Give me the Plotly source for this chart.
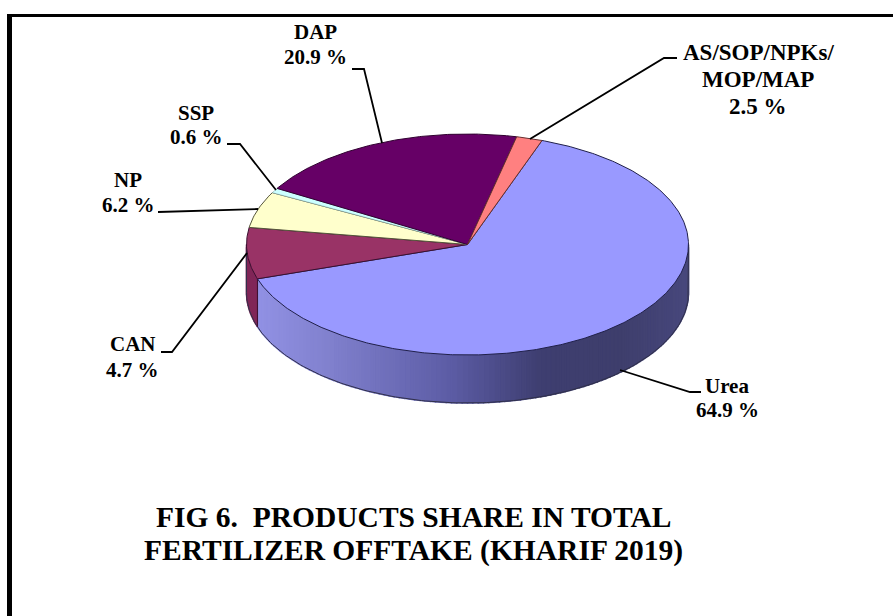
import math
import plotly.graph_objects as go

# Printed labels
categories = ["Urea", "CAN", "NP", "SSP", "DAP", "AS/SOP/NPKs/<br>MOP/MAP"]
printed_share = [64.9, 4.7, 6.2, 0.6, 20.9, 2.5]
# Share of the circle each slice actually occupies in the picture (%), clockwise from Urea
drawn_share = [64.5, 7.5, 5.3, 0.7, 20.1, 1.9]
slice_colors = ["#9999FF", "#993366", "#FFFFCC", "#CCFFFF", "#660066", "#FF8080"]
edge_colors = ["#20204a", "#3a1030", "#55553a", "#7a9a9a", "#300030", "#663030"]
edge_widths = [1, 1, 1, 0.5, 1, 1]
title_lines = ["FIG 6.\u00a0\u00a0PRODUCTS SHARE IN TOTAL", "FERTILIZER OFFTAKE (KHARIF 2019)"]

W, H = 893, 616
CX, CY, RX, RY, DEPTH = 467.5, 244.5, 221, 110.5, 48
START_DEG = 19.7

# Layout of the labels and their leader lines (page pixels)
label_pos = {
    "Urea": [(727, 386), (727, 410)],
    "CAN": [(133, 344), (132, 370)],
    "NP": [(128, 180), (128, 205)],
    "SSP": [(196, 113), (196, 137)],
    "DAP": [(315, 32), (315, 57)],
    "AS": [(758, 52), (758, 79), (758, 106)],
}
label_size = {"Urea": 21, "CAN": 21, "NP": 21, "SSP": 21, "DAP": 21, "AS": 23}
leaders = [
    [(701, 392), (690, 392), (620, 370)],
    [(161, 352), (172, 352), (247, 253)],
    [(158, 212), (258, 209)],
    [(227, 144), (240, 144), (276, 190)],
    [(352, 69), (364, 69), (382, 143)],
    [(677, 58), (664, 58), (530, 139)],
]
rim_stops = [(258, (145, 145, 228)), (330, (128, 128, 205)), (450, (92, 92, 165)),
             (540, (62, 62, 112)), (620, (62, 62, 108)), (689, (72, 72, 125))]


def pt(deg, dy=0.0):
    a = math.radians(deg)
    return CX + RX * math.sin(a), CY - RY * math.cos(a) + dy


def rim_color(x):
    if x <= rim_stops[0][0]:
        c = rim_stops[0][1]
    else:
        c = rim_stops[-1][1]
        for (x0, c0), (x1, c1) in zip(rim_stops, rim_stops[1:]):
            if x0 <= x <= x1:
                f = (x - x0) / (x1 - x0)
                c = tuple(a + (b - a) * f for a, b in zip(c0, c1))
                break
    return "rgb(%d,%d,%d)" % tuple(round(v) for v in c)


edges = [START_DEG]
for s in drawn_share:
    edges.append(edges[-1] + s * 3.6)

fig = go.Figure()


def add_poly(xs, ys, fill, line, width):
    fig.add_trace(go.Scatter(x=xs, y=ys, mode="lines", fill="toself", fillcolor=fill,
                             line=dict(color=line, width=width), hoverinfo="skip",
                             showlegend=False))


# Rim of the disc (only the near half, 90..270 degrees, is visible)
boundary = edges[1]
N = 130
for i in range(N):
    t0 = 90 + 180 * i / N
    t1 = 90 + 180 * (i + 1) / N
    tm = (t0 + t1) / 2
    if tm < boundary:
        col = rim_color(pt(tm)[0])
    else:
        col = "rgb(128,38,88)"
    p = [pt(t0), pt(t1), pt(t1, DEPTH), pt(t0, DEPTH)]
    add_poly([q[0] for q in p] + [p[0][0]], [q[1] for q in p] + [p[0][1]], col, col, 1.5)

# Rim outline
steps = [90 + 180 * i / 180 for i in range(181)]
bx = [pt(90)[0]] + [pt(t, DEPTH)[0] for t in steps] + [pt(270)[0]]
by = [pt(90)[1]] + [pt(t, DEPTH)[1] for t in steps] + [pt(270)[1]]
fig.add_trace(go.Scatter(x=bx, y=by, mode="lines", line=dict(color="#30304a", width=1),
                         hoverinfo="skip", showlegend=False))
bp0, bp1 = pt(boundary), pt(boundary, DEPTH)
fig.add_trace(go.Scatter(x=[bp0[0], bp1[0]], y=[bp0[1], bp1[1]], mode="lines",
                         line=dict(color="#3a1030", width=1), hoverinfo="skip", showlegend=False))

# Top face
for i in range(len(drawn_share)):
    a0, a1 = edges[i], edges[i + 1]
    n = max(3, int((a1 - a0) * 1.5))
    arc = [pt(a0 + (a1 - a0) * k / n) for k in range(n + 1)]
    xs = [CX] + [q[0] for q in arc] + [CX]
    ys = [CY] + [q[1] for q in arc] + [CY]
    add_poly(xs, ys, slice_colors[i], edge_colors[i], edge_widths[i])

# Leader lines
for pts in leaders:
    fig.add_trace(go.Scatter(x=[p[0] for p in pts], y=[p[1] for p in pts], mode="lines",
                             line=dict(color="black", width=1.8), hoverinfo="skip",
                             showlegend=False))

FONT = "Liberation Serif"
ann = []


def text(x, y, s, size):
    ann.append(dict(x=x, y=y, xref="x", yref="y", text="<b>%s</b>" % s, showarrow=False,
                    xanchor="center", yanchor="middle",
                    font=dict(family=FONT, size=size, color="black")))


keys = ["Urea", "CAN", "NP", "SSP", "DAP", "AS"]
for key, cat, share in zip(keys, categories, printed_share):
    lines = cat.split("<br>") + ["%.1f %%" % share]
    for (x, y), s in zip(label_pos[key], lines):
        text(x, y, s, label_size[key])
text(414, 517, title_lines[0], 29.5)
text(413.5, 550, title_lines[1], 29.5)

shapes = [
    dict(type="rect", xref="x", yref="y", x0=7, x1=12, y0=14, y1=616,
         fillcolor="black", line=dict(width=0), layer="above"),
    dict(type="rect", xref="x", yref="y", x0=7, x1=893, y0=14, y1=17,
         fillcolor="black", line=dict(width=0), layer="above"),
]

fig.update_layout(
    width=W, height=H, margin=dict(l=0, r=0, t=0, b=0), paper_bgcolor="white",
    plot_bgcolor="white", showlegend=False, annotations=ann, shapes=shapes,
    xaxis=dict(range=[0, W], visible=False, fixedrange=True),
    yaxis=dict(range=[H, 0], visible=False, fixedrange=True),
)
fig.write_html("out.html", config={"displayModeBar": False},
               post_script="document.body.style.margin='0';document.body.style.overflow='hidden';")
